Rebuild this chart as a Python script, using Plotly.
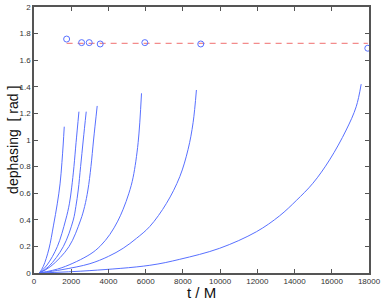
import plotly.graph_objects as go

# dephasing curves (t / M, dephasing rad)
c1_t = [290, 500, 800, 1050, 1250, 1400, 1500, 1570, 1626]
c1_y = [0, 0.05, 0.18, 0.36, 0.52, 0.67, 0.83, 0.97, 1.1]
c2_t = [290, 700, 1252, 1700, 1900, 2022, 2146, 2260, 2414]
c2_y = [0, 0.06, 0.198, 0.398, 0.52, 0.64, 0.8, 0.98, 1.213]
c3_t = [290, 800, 1573, 2109, 2250, 2377, 2504, 2647, 2806]
c3_y = [0, 0.05, 0.198, 0.398, 0.5, 0.624, 0.8, 1.0, 1.213]
c4_t = [290, 900, 1878, 2504, 2720, 2897, 3060, 3200, 3396]
c4_y = [0, 0.05, 0.198, 0.398, 0.5, 0.624, 0.8, 1.0, 1.256]
c5_t = [290, 1500, 3004, 3577, 4077, 4500, 4791, 5100, 5327, 5595, 5776]
c5_y = [0, 0.04, 0.14, 0.205, 0.29, 0.39, 0.48, 0.6, 0.72, 0.98, 1.351]
c6_t = [290, 1500, 3004, 4000, 4791, 5500, 6223, 7119, 7833, 8280, 8548, 8727]
c6_y = [0, 0.025, 0.07, 0.125, 0.186, 0.26, 0.35, 0.524, 0.724, 0.93, 1.13, 1.376]
c7_t = [290, 3004, 6223, 7833, 9979, 11946, 13197, 14093, 14987, 15880, 16775, 17311, 17580]
c7_y = [0, 0.018, 0.058, 0.103, 0.186, 0.31, 0.43, 0.545, 0.675, 0.85, 1.075, 1.25, 1.42]

curves = [(c1_t, c1_y), (c2_t, c2_y), (c3_t, c3_y), (c4_t, c4_y),
          (c5_t, c5_y), (c6_t, c6_y), (c7_t, c7_y)]

# final dephasing markers
end_t = [1754, 2560, 2967, 3557, 5955, 8960, 17935]
end_y = [1.759, 1.732, 1.732, 1.722, 1.732, 1.722, 1.69]

# mean line
mean_t = [1754, 17935]
mean_y = [1.727, 1.727]

x_ticks = [0, 2000, 4000, 6000, 8000, 10000, 12000, 14000, 16000, 18000]
y_ticks = [0, 0.2, 0.4, 0.6, 0.8, 1.0, 1.2, 1.4, 1.6, 1.8, 2.0]
y_labels = ["0", "0.2", "0.4", "0.6", "0.8", "1", "1.2", "1.4", "1.6", "1.8", "2"]

blue = "rgb(88,112,255)"
font_family = "Liberation Sans, Arial, Helvetica, sans-serif"

fig = go.Figure()
for t, y in curves:
    fig.add_trace(go.Scatter(x=t, y=y, mode="lines",
                             line=dict(color=blue, width=1, shape="spline", smoothing=1.0),
                             showlegend=False, hoverinfo="skip"))
fig.add_trace(go.Scatter(x=mean_t, y=mean_y, mode="lines",
                         line=dict(color="rgb(240,110,110)", width=1, dash="6px,5px"),
                         showlegend=False))
fig.add_trace(go.Scatter(x=end_t, y=end_y, mode="markers",
                         marker=dict(symbol="circle-open", size=6, color=blue, line=dict(width=1)),
                         showlegend=False))

axis_common = dict(showgrid=False, zeroline=False, showline=True, mirror="ticks",
                   linecolor="#555555", linewidth=1.5, ticks="inside", ticklen=4,
                   tickcolor="#555555", automargin=False,
                   tickfont=dict(family=font_family, size=8, color="#333333"))

fig.update_xaxes(range=[0, 18000], tickvals=x_ticks, ticktext=[str(v) for v in x_ticks], **axis_common)
fig.update_yaxes(range=[0, 2], tickvals=y_ticks, ticktext=y_labels, **axis_common)

fig.add_annotation(text="t / M", xref="paper", yref="paper", x=0.5, y=-0.073,
                   xanchor="center", yanchor="middle", showarrow=False,
                   font=dict(family=font_family, size=15, color="#111111"))
fig.add_annotation(text="dephasing  [ rad ]", xref="paper", yref="paper", x=-0.063, y=0.5,
                   xanchor="center", yanchor="middle", textangle=-90, showarrow=False,
                   font=dict(family=font_family, size=14, color="#111111"))

fig.update_layout(width=382, height=301, margin=dict(l=34, r=13, t=7, b=28),
                  plot_bgcolor="white", paper_bgcolor="white")
fig.write_html("out.html", config={"displayModeBar": False},
               post_script="document.body.style.margin='0';document.body.style.padding='0';document.body.style.overflow='hidden';")
